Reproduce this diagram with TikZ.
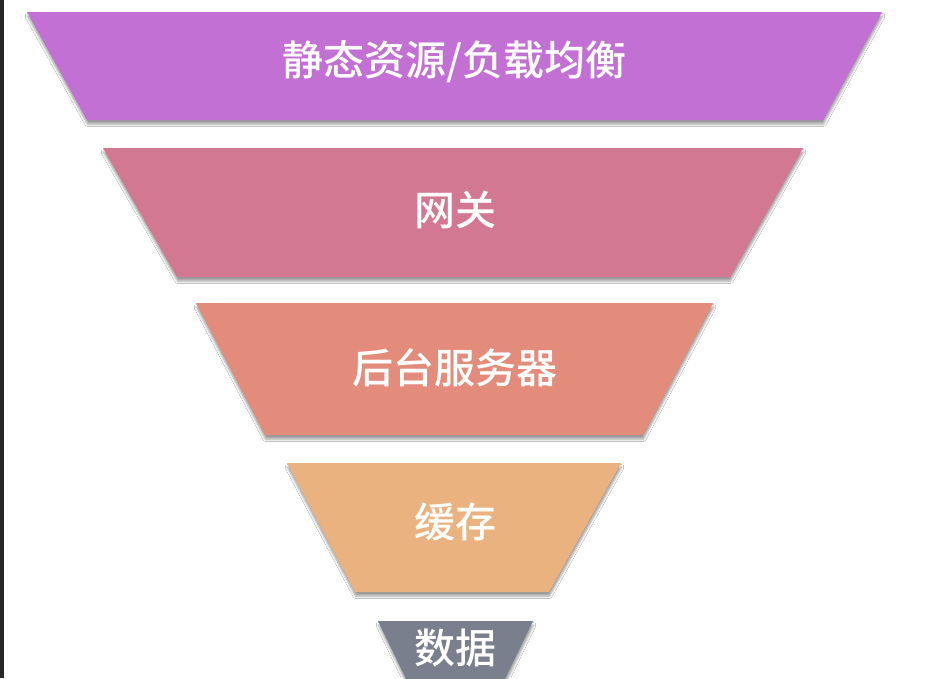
\documentclass[tikz,border=0pt]{standalone}
\usepackage{fontspec}
\newfontfamily\cjk{Noto Sans CJK SC}[UprightFont={* Medium}]
\usetikzlibrary{shadows.blur}
\definecolor{barc}{HTML}{262626}
\definecolor{c1}{HTML}{C370D4}
\definecolor{c2}{HTML}{D37893}
\definecolor{c3}{HTML}{E48C7C}
\definecolor{c4}{HTML}{EAB27F}
\definecolor{c5}{HTML}{7A7F8E}
\tikzset{
  layer/.style={fill=#1, draw=none, blur shadow={shadow xshift=0.5pt, shadow yshift=-4pt, shadow blur radius=2.5pt, shadow opacity=40}},
  label/.style={text=white, font=\cjk\fontsize{41}{41}\selectfont, inner sep=0pt}
}
\begin{document}
\begin{tikzpicture}[x=1pt,y=-1pt]
\useasboundingbox (0,0) rectangle (936,678);
\fill[white] (0,0) rectangle (936,678);
\fill[barc] (0,0) rectangle (3.5,678);
% layers
\fill[layer=c1] (27,12) -- (882,12) -- (823,120) -- (87,120) -- cycle;
\fill[layer=c2] (103,148) -- (803,148) -- (730,277) -- (177,277) -- cycle;
\fill[layer=c3] (196,303) -- (713,303) -- (643,435) -- (265,435) -- cycle;
\fill[layer=c4] (287,463) -- (621,463) -- (549,592) -- (355,592) -- cycle;
\begin{scope}
\clip (0,0) rectangle (936,678);
\fill[layer=c5] (378,621) -- (533,621) -- (503,683) -- (408,683) -- cycle;
\end{scope}
% labels
\node[label] (t1) at (454,62) {静态资源/负载均衡};
\node[label] (t2) at (455,210) {网关};
\node[label] (t3) at (455,368) {后台服务器};
\node[label] (t4) at (455,522) {缓存};
\node[label] (t5) at (455,648) {数据};
\end{tikzpicture}
\end{document}
